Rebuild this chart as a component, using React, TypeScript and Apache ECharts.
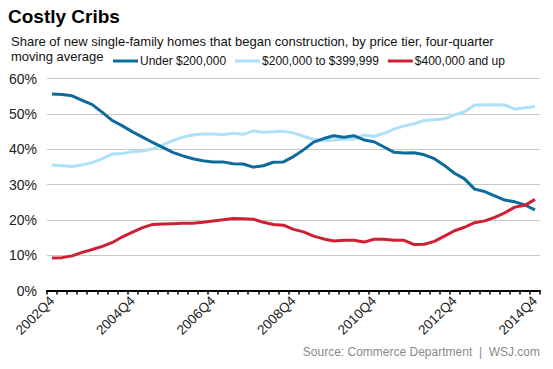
import React, { useEffect, useRef } from "react";
import * as echarts from "echarts";

const years = [2002, 2003, 2004, 2005, 2006, 2007, 2008, 2009, 2010, 2011, 2012, 2013, 2014];
const quarters: string[] = [];
years.forEach((y) => {
  for (let q = 1; q <= 4; q++) {
    if (y === 2002 && q < 4) continue;
    quarters.push(`${y}Q${q}`);
  }
});

const under200 = [
  55.6, 55.5, 55.1, 53.8, 52.6, 50.4, 48.1, 46.6, 44.9, 43.4,
  41.9, 40.5, 39.1, 38.1, 37.3, 36.7, 36.4, 36.4, 35.9, 35.8,
  34.9, 35.3, 36.3, 36.4, 37.9, 39.8, 42.0, 43.0, 43.8, 43.4,
  43.8, 42.6, 42.1, 40.6, 39.1, 38.9, 39.0, 38.4, 37.3, 35.4,
  33.2, 31.6, 28.7, 28.0, 26.8, 25.6, 25.1, 24.2, 22.8,
];
const mid = [
  35.5, 35.3, 35.1, 35.6, 36.2, 37.3, 38.6, 38.8, 39.3, 39.5,
  40.1, 41.2, 42.4, 43.4, 44.0, 44.3, 44.3, 44.1, 44.5, 44.2,
  45.2, 44.8, 44.9, 45.1, 44.6, 43.6, 42.8, 42.4, 42.6, 42.8,
  42.9, 44.0, 43.6, 44.5, 45.7, 46.6, 47.2, 48.1, 48.3, 48.6,
  49.7, 50.6, 52.5, 52.6, 52.6, 52.5, 51.3, 51.7, 52.1,
];
const over400 = [
  9.2, 9.3, 9.8, 10.8, 11.6, 12.5, 13.6, 15.2, 16.5, 17.8,
  18.7, 18.8, 18.9, 19.0, 19.0, 19.3, 19.7, 20.0, 20.4, 20.3,
  20.2, 19.3, 18.7, 18.5, 17.3, 16.6, 15.4, 14.6, 14.0, 14.2,
  14.2, 13.7, 14.5, 14.5, 14.2, 14.2, 13.0, 13.1, 13.9, 15.4,
  16.9, 17.9, 19.2, 19.7, 20.7, 22.0, 23.6, 24.1, 25.8,
];
const seriesNames = ["Under $200,000", "$200,000 to $399,999", "$400,000 and up"];
const colors = ["#0d6a9c", "#aee0f7", "#cf1f33"];

export default function App() {
  const ref = useRef<HTMLDivElement>(null);
  useEffect(() => {
    if (!ref.current) return;
    const chart = echarts.init(ref.current, null, { renderer: "svg" });
    const font = "Liberation Sans, Arial, sans-serif";
    chart.setOption({
      animation: false,
      textStyle: { fontFamily: font },
      grid: { left: 47, right: 13, top: 78.5, bottom: 78.5, containLabel: false },
      graphic: [
        {
          type: "text",
          left: 8,
          top: 7,
          style: { text: "Costly Cribs", font: `bold 19px ${font}`, fill: "#000" },
        },
        {
          type: "text",
          left: 11,
          top: 35,
          style: {
            text: "Share of new single-family homes that began construction, by price tier, four-quarter",
            font: `13px ${font}`,
            fill: "#111",
          },
        },
        {
          type: "text",
          left: 11,
          top: 50,
          style: { text: "moving average", font: `13px ${font}`, fill: "#111" },
        },
        {
          type: "text",
          right: 13,
          top: 346,
          style: {
            text: "Source: Commerce Department  |  WSJ.com",
            font: `12px ${font}`,
            fill: "#8a8a8a",
          },
        },
      ],
      legend: {
        left: 113,
        top: 55,
        itemWidth: 25,
        itemHeight: 3,
        itemGap: 9,
        icon: "rect",
        padding: 0,
        textStyle: { fontSize: 12, color: "#111", fontFamily: font, padding: [0, 0, 0, -3] },
        data: seriesNames,
      },
      xAxis: {
        type: "category",
        data: quarters,
        boundaryGap: true,
        axisLine: { lineStyle: { color: "#000", width: 2 } },
        axisTick: { show: true, interval: 0, length: 4, lineStyle: { color: "#000", width: 1.5 } },
        axisLabel: {
          interval: 7,
          rotate: 45,
          fontSize: 13.5,
          color: "#222",
          fontFamily: font,
          margin: 8,
        },
        splitLine: { show: false },
      },
      yAxis: {
        type: "value",
        min: 0,
        max: 60,
        interval: 10,
        axisLine: { show: false },
        axisTick: { show: false },
        axisLabel: { formatter: "{value}%", fontSize: 14, color: "#222", fontFamily: font, margin: 10 },
        splitLine: { lineStyle: { color: "#c8c8c8", width: 1 } },
      },
      series: [under200, mid, over400].map((d, i) => ({
        name: seriesNames[i],
        type: "line",
        data: d,
        symbol: "none",
        lineStyle: { width: 3, color: colors[i] },
        itemStyle: { color: colors[i] },
        z: i === 1 ? 2 : 3,
      })),
    });
    return () => chart.dispose();
  }, []);
  return (
    <div
      ref={ref}
      style={{ position: "absolute", left: 0, top: 0, width: 553, height: 369 }}
    />
  );
}
